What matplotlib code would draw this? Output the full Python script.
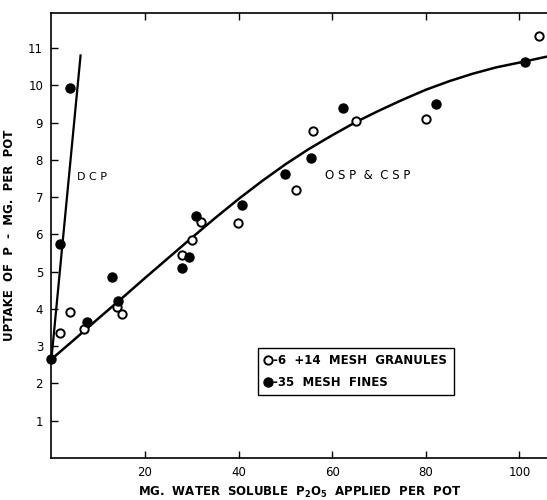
import numpy as np
import matplotlib
matplotlib.use("Agg")
import matplotlib.pyplot as plt

# -6 +14 mesh granules (open circles)
gran_x = [1.8, 4.0, 7.0, 14.0, 15.1, 27.8, 30.0, 31.9, 39.8, 52.2, 56.0, 65.0, 80.0, 104.1]
gran_y = [3.35, 3.93, 3.45, 4.05, 3.87, 5.45, 5.85, 6.32, 6.30, 7.20, 8.78, 9.03, 9.10, 11.33]

# -35 mesh fines (filled circles)
fine_x = [0.0, 1.8, 4.0, 7.5, 13.0, 14.2, 27.8, 29.3, 30.8, 40.7, 50.0, 55.4, 62.4, 82.2, 101.1]
fine_y = [2.65, 5.73, 9.94, 3.65, 4.85, 4.20, 5.10, 5.40, 6.48, 6.78, 7.62, 8.05, 9.40, 9.50, 10.62]

# hand-drawn response lines
dcp_x = [0.0, 6.25]
dcp_y = [2.65, 10.83]
osp_x = [0, 5, 10, 15, 20, 25, 30, 35, 40, 45, 50, 55, 60, 65, 70, 75, 80, 85, 90, 95, 100, 105.9]
osp_y = [2.65, 3.19, 3.74, 4.28, 4.83, 5.37, 5.91, 6.44, 6.95, 7.43, 7.88, 8.29, 8.66, 9.01,
         9.32, 9.61, 9.88, 10.11, 10.31, 10.48, 10.61, 10.77]

x_ticks = [20, 40, 60, 80, 100]
y_ticks = [1, 2, 3, 4, 5, 6, 7, 8, 9, 10, 11]

fig = plt.figure(figsize=(5.47, 5.0), dpi=100)
ax = fig.add_axes([0.094, 0.084, 0.906, 0.89])

ax.plot(dcp_x, dcp_y, color="black", lw=1.6, solid_capstyle="butt")
ax.plot(osp_x, osp_y, color="black", lw=1.8)

ax.plot(gran_x, gran_y, "o", ms=6, mfc="white", mec="black", mew=1.4,
        clip_on=False, zorder=4, label="-6  +14  MESH  GRANULES")
ax.plot(fine_x, fine_y, "o", ms=6.5, mfc="black", mec="black",
        clip_on=False, zorder=4, label="-35  MESH  FINES")

ax.text(5.4, 7.54, "D C P", fontsize=8, va="center")
ax.text(58.5, 7.59, "O S P  &  C S P", fontsize=8.5, va="center")

ax.set_xlim(0, 105.9)
ax.set_ylim(0, 11.94)
ax.set_xticks(x_ticks)
ax.set_yticks(y_ticks)
ax.tick_params(direction="in", length=5, width=1, labelsize=8.5, top=True, pad=6)
ax.spines["right"].set_visible(False)
for s in ["left", "bottom", "top"]:
    ax.spines[s].set_linewidth(1.2)

ax.set_ylabel("UPTAKE  OF  P  -  MG.  PER  POT", fontsize=8.5, fontweight="bold", labelpad=9)
ax.set_xlabel(r"MG.  WATER  SOLUBLE  $\mathbf{P_2O_5}$  APPLIED  PER  POT", fontsize=8.5,
              fontweight="bold", labelpad=4)

leg = ax.legend(loc="lower left", bbox_to_anchor=(0.405, 0.128),
                prop={"size": 8.5, "weight": "bold"},
                handlelength=0.6, handletextpad=0.15, borderpad=0.55, labelspacing=0.7,
                fancybox=False, framealpha=1, edgecolor="black")
leg.get_frame().set_linewidth(1.0)

fig.savefig("out.png", dpi=100)
